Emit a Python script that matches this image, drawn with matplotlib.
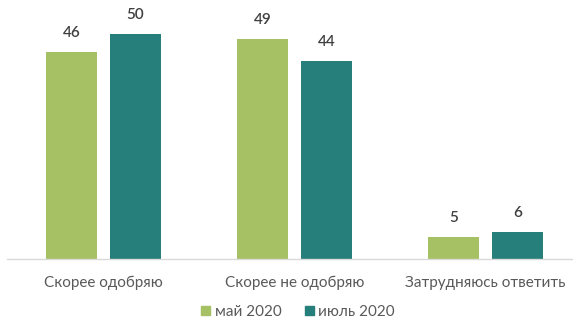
import numpy as np
import matplotlib.pyplot as plt
import matplotlib as mpl
from matplotlib.patches import Patch

mpl.rcParams['font.family'] = ['Lato', 'DejaVu Sans']

# данные
categories = ['Скорее одобряю', 'Скорее не одобряю', 'Затрудняюсь ответить']
series_names = ['май 2020', 'июль 2020']
may_2020 = [46, 49, 5]
july_2020 = [50, 44, 6]

colors = ['#a5c163', '#267f7a']

fig = plt.figure(figsize=(5.73, 3.18), dpi=100)
ax = fig.add_axes([7 / 573, 59 / 318, 566 / 573, 259 / 318])

x = np.arange(len(categories))
width = 0.267
offset = 0.1675

for vals, shift, col in [(may_2020, -offset, colors[0]), (july_2020, offset, colors[1])]:
    bars = ax.bar(x + shift, vals, width, color=col)
    for b, v in zip(bars, vals):
        ax.annotate(str(v), (b.get_x() + b.get_width() / 2, v),
                    xytext=(0, 8.5), textcoords='offset points',
                    ha='center', va='bottom', fontsize=11,
                    color='#404040', fontweight='semibold')

ax.set_xlim(-0.505, 2.458)
ax.set_ylim(0, 57.6)

for s in ['top', 'right', 'left']:
    ax.spines[s].set_visible(False)
ax.spines['bottom'].set_color('#d9d9d9')
ax.spines['bottom'].set_linewidth(1)
ax.set_yticks([])
ax.set_xticks(x)
ax.set_xticklabels(categories, fontsize=11, color='#595959')
ax.tick_params(axis='x', length=0, pad=12)

handles = [Patch(color=c, label=n) for c, n in zip(colors, series_names)]
fig.legend(handles=handles, loc='center', bbox_to_anchor=(298 / 573, 1 - 312 / 318),
           ncol=2, frameon=False, fontsize=11, labelcolor='#595959',
           handlelength=0.6, handleheight=0.6, handletextpad=0.3,
           columnspacing=1.5)

fig.savefig('out.png', dpi=100)
